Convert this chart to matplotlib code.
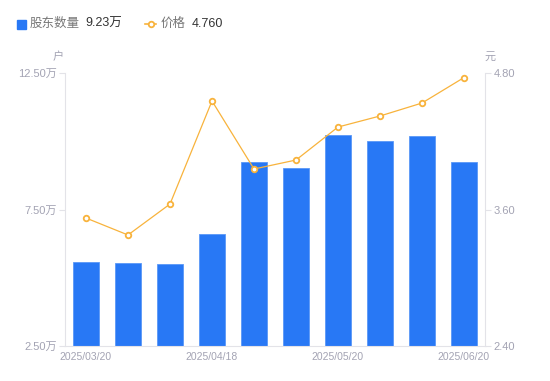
import numpy as np
import matplotlib
matplotlib.use("Agg")
import matplotlib.pyplot as plt
from matplotlib.lines import Line2D

plt.rcParams['font.family'] = ['Liberation Sans', 'Noto Sans CJK SC', 'DejaVu Sans']

# data
dates = ["2025/03/20", "2025/03/31", "2025/04/10", "2025/04/18", "2025/04/30",
         "2025/05/09", "2025/05/20", "2025/05/30", "2025/06/10", "2025/06/20"]
holders = [5.58, 5.54, 5.50, 6.60, 9.24, 9.02, 10.23, 10.01, 10.19, 9.23]   # 万户
price = [3.525, 3.376, 3.648, 4.554, 3.956, 4.035, 4.325, 4.422, 4.536, 4.760]
shown_ticks = [0, 3, 6, 9]

BAR = "#2878f5"
LINE = "#f8b33c"
TICK = "#a3a3b3"
SPINE = "#e3e3e8"

fig = plt.figure(figsize=(5.5, 3.81), dpi=100, facecolor="white")
ax = fig.add_axes([65 / 550, 35 / 381, 420 / 550, 273 / 381])
ax2 = ax.twinx()

x = np.arange(len(dates))
ax.bar(x, holders, width=0.6, bottom=0, color=BAR, edgecolor="#5a98f7",
       linewidth=0.6, zorder=2)
ax.set_xlim(-0.5, len(dates) - 0.5)
ax.set_ylim(2.5, 12.5)
ax.set_yticks([2.5, 7.5, 12.5])
ax.set_yticklabels([f"{v:.2f}万" for v in [2.5, 7.5, 12.5]])
ax.set_xticks([x[i] for i in shown_ticks])
ax.set_xticklabels([dates[i] for i in shown_ticks])

ax2.plot(x, price, color=LINE, linewidth=0.9, marker="o", markersize=4,
         markerfacecolor="white", markeredgecolor=LINE, markeredgewidth=1.3,
         zorder=3)
ax2.set_ylim(2.4, 4.8)
ax2.set_yticks([2.4, 3.6, 4.8])
ax2.set_yticklabels([f"{v:.2f}" for v in [2.4, 3.6, 4.8]])

for a in (ax, ax2):
    for s in a.spines.values():
        s.set_visible(False)
    a.tick_params(axis="y", colors=SPINE, labelcolor=TICK, labelsize=8,
                  length=4, width=0.8, pad=2)
ax.spines["left"].set_visible(True)
ax.spines["left"].set_color(SPINE)
ax.spines["bottom"].set_visible(True)
ax.spines["bottom"].set_color(SPINE)
ax2.spines["right"].set_visible(True)
ax2.spines["right"].set_color(SPINE)
ax.tick_params(axis="x", length=0, labelcolor=TICK, labelsize=7.5, pad=4)

# axis unit labels
fig.text(58 / 550, 1 - 57 / 381, "户", ha="center", va="center",
         fontsize=8, color=TICK)
fig.text(490 / 550, 1 - 57 / 381, "元", ha="center", va="center",
         fontsize=8, color=TICK)

# custom legend row
ly = 1 - 24 / 381
fig.patches.append(plt.Rectangle((17 / 550, ly - 4.5 / 381), 9 / 550, 9 / 381,
                                 transform=fig.transFigure, color=BAR))
fig.text(30 / 550, ly, "股东数量", ha="left", va="center", fontsize=9, color="#777777")
fig.text(85 / 550, ly, f"{holders[-1]:.2f}万", ha="left", va="center",
         fontsize=9, color="#333333")
fig.lines.append(Line2D([145 / 550, 156 / 550], [ly, ly], transform=fig.transFigure,
                        color=LINE, linewidth=1.2))
fig.lines.append(Line2D([150.5 / 550], [ly], transform=fig.transFigure,
                        color=LINE, marker="o", markersize=4, linestyle="none",
                        markerfacecolor="white", markeredgewidth=1.3))
fig.text(161 / 550, ly, "价格", ha="left", va="center", fontsize=9, color="#777777")
fig.text(192 / 550, ly, f"{price[-1]:.3f}", ha="left", va="center",
         fontsize=9, color="#333333")

fig.savefig("out.png", dpi=100, facecolor="white")
